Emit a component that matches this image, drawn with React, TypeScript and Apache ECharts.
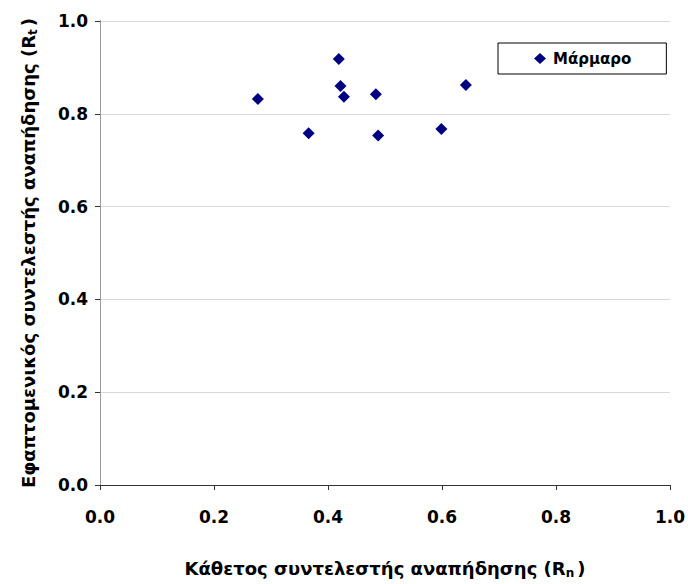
import React, { useEffect, useRef } from "react";
import * as echarts from "echarts";

const seriesName = "Μάρμαρο";
const rnValues = [0.277, 0.419, 0.422, 0.428, 0.484, 0.642, 0.366, 0.488, 0.599];
const rtValues = [0.832, 0.918, 0.860, 0.837, 0.842, 0.862, 0.758, 0.753, 0.767];

export default function App() {
  const ref = useRef<HTMLDivElement>(null);
  useEffect(() => {
    if (!ref.current) return;
    const chart = echarts.init(ref.current, null, { renderer: "svg" });
    const data = rnValues.map((x, i) => [x, rtValues[i]]);
    const font = "'DejaVu Sans', 'Liberation Sans', Arial, sans-serif";
    const subStyle = { fontFamily: font, fontWeight: "bold", fontSize: 12, verticalAlign: "bottom", padding: [10, 3, 0, 0], color: "#000" };
    chart.setOption({
      animation: false,
      backgroundColor: "#ffffff",
      grid: { left: 100, top: 21, right: 15, bottom: 94, containLabel: false },
      legend: {
        left: 498,
        top: 43,
        padding: [8, 35, 8, 36],
        borderColor: "#000000",
        borderWidth: 1,
        itemWidth: 12,
        itemHeight: 11,
        itemGap: 4,
        data: [{ name: seriesName, icon: "diamond" }],
        textStyle: { fontFamily: font, fontWeight: "bold", fontSize: 15, color: "#000", padding: [0, 0, 0, 2] },
      },
      xAxis: {
        type: "value",
        min: 0,
        max: 1,
        interval: 0.2,
        name: "Κάθετος συντελεστής αναπήδησης (R{sub|n})",
        nameLocation: "middle",
        nameGap: 72,
        nameTextStyle: {
          fontFamily: font,
          fontWeight: "bold",
          fontSize: 18,
          color: "#000",
          rich: { sub: subStyle },
        },
        axisLine: { show: true, onZero: false, lineStyle: { color: "#333", width: 1 } },
        axisTick: { show: true, inside: false, length: 5, lineStyle: { color: "#333" } },
        axisLabel: { fontFamily: font, fontWeight: "bold", fontSize: 17, color: "#000", margin: 23, formatter: (v: number) => v.toFixed(1) },
        splitLine: { show: false },
      },
      yAxis: [
        {
          type: "value",
          min: 0,
          max: 1,
          interval: 0.2,
          name: "Εφαπτομενικός συντελεστής αναπήδησης (R{sub|t})",
          nameLocation: "middle",
          nameGap: 61,
          nameTextStyle: {
            fontFamily: font,
            fontWeight: "bold",
            fontSize: 18,
            color: "#000",
            rich: { sub: subStyle },
          },
          axisLine: { show: true, onZero: false, lineStyle: { color: "#333", width: 1 } },
          axisTick: { show: true, inside: false, length: 5, lineStyle: { color: "#333" } },
          axisLabel: { fontFamily: font, fontWeight: "bold", fontSize: 17, color: "#000", margin: 12, formatter: (v: number) => v.toFixed(1) },
          splitLine: { show: true, lineStyle: { color: "#d9d9d9", width: 1 } },
        },
        {
          type: "value",
          position: "right",
          min: 0,
          max: 1,
          interval: 0.2,
          axisLine: { show: true, lineStyle: { color: "#999", width: 1 } },
          axisTick: { show: false },
          axisLabel: { show: false },
          splitLine: { show: false },
        },
      ],
      series: [
        {
          name: seriesName,
          type: "scatter",
          symbol: "diamond",
          symbolSize: 12,
          itemStyle: { color: "#000080", opacity: 1 },
          emphasis: { disabled: true },
          data,
        },
      ],
    });
    return () => chart.dispose();
  }, []);
  return <div ref={ref} style={{ position: "absolute", left: 0, top: 0, width: 688, height: 584 }} />;
}
